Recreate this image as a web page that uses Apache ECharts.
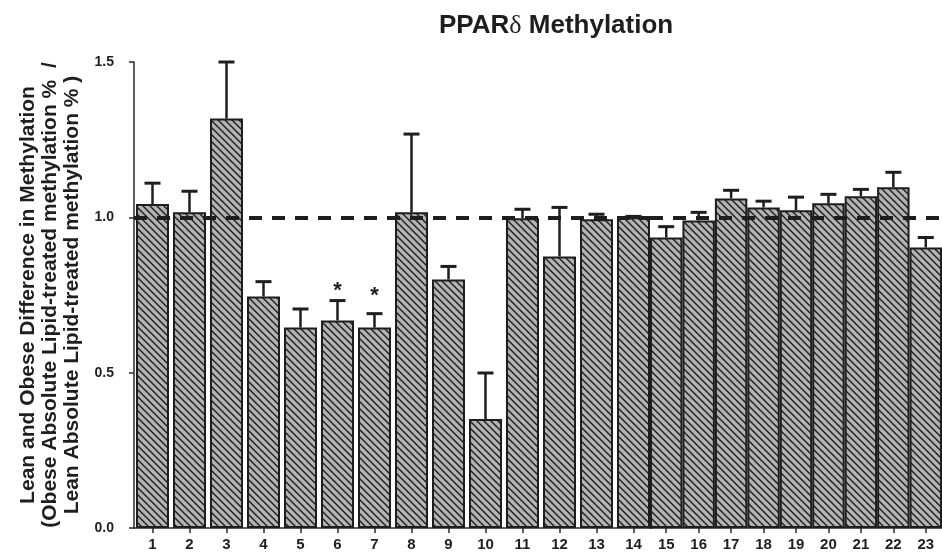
<!DOCTYPE html>
<html><head><meta charset="utf-8">
<script src="https://cdn.jsdelivr.net/npm/echarts@6/dist/echarts.min.js"></script>
<style>html,body{margin:0;padding:0;background:#fff}#c{width:942px;height:553px}</style>
</head><body><div id="c"></div>
<script>
// ---- data ----
const categories = ['1','2','3','4','5','6','7','8','9','10','11','12','13','14','15','16','17','18','19','20','21','22','23'];
const ratioValues = [1.043,1.016,1.318,0.745,0.645,0.668,0.645,1.016,0.800,0.351,0.997,0.874,0.994,1.000,0.935,0.990,1.061,1.032,1.023,1.045,1.068,1.097,0.903];
const errorValues = [0.067,0.068,0.182,0.048,0.060,0.064,0.045,0.252,0.042,0.148,0.029,0.158,0.016,0.003,0.035,0.026,0.026,0.020,0.042,0.029,0.022,0.048,0.032];
const sigMarks = ['','','','','','*','*','','','','','','','','','','','','','','','',''];
const sigLevels = [null,null,null,null,null,0.773,0.756,null,null,null,null,null,null,null,null,null,null,null,null,null,null,null,null];
const yTicks = [0, 0.5, 1.0, 1.5];
const referenceLine = 1.0;
const splitAt = 14; // first 14 bars separated by gaps, remaining bars touch

// ---- styles ----
const FONT = '"Liberation Sans", Arial, sans-serif';
const INK = '#1e1e1e';
function hatch(){
  const s = 7;
  const c = document.createElement('canvas'); c.width = s; c.height = s;
  const g = c.getContext('2d');
  g.fillStyle = '#b3b3b5'; g.fillRect(0,0,s,s);
  g.strokeStyle = '#1e1e1e'; g.lineWidth = 1.4;
  g.beginPath();
  g.moveTo(-1,-1); g.lineTo(s+1,s+1);
  g.moveTo(-1,s-1); g.lineTo(1,s+1);
  g.moveTo(s-1,-1); g.lineTo(s+1,1);
  g.stroke();
  return c;
}
const pattern = {image: hatch(), repeat: 'repeat'};

function part(arr, k){ return k === 0 ? arr.slice(0, splitAt) : arr.slice(splitAt); }

function errRender(offset){
  return function(params, api){
    const i = api.value(0), v = api.value(1), e = api.value(2);
    const p0 = api.coord([i, v]);
    const p1 = api.coord([i, v + e]);
    const children = [
      {type:'line', shape:{x1:p0[0], y1:p0[1], x2:p1[0], y2:p1[1]}, style:{stroke:INK, lineWidth:2.5}},
      {type:'line', shape:{x1:p1[0]-8, y1:p1[1], x2:p1[0]+8, y2:p1[1]}, style:{stroke:INK, lineWidth:3}}
    ];
    const k = offset + params.dataIndex;
    const m = sigMarks[k];
    if (m) {
      const ps = api.coord([i, sigLevels[k]]);
      children.push({type:'text', x:ps[0], y:ps[1]+3, style:{text:m, fill:INK, font:'bold 22px ' + FONT, align:'center', verticalAlign:'middle'}});
    }
    return {type:'group', children};
  };
}

const axisLineStyle = {color:'#2a2a2a', width:1.5};
const xAxisCommon = {
  type:'category', boundaryGap:true,
  axisLine:{show:true, lineStyle:axisLineStyle},
  axisTick:{show:true, alignWithLabel:true, length:5, lineStyle:axisLineStyle},
  axisLabel:{color:INK, fontFamily:FONT, fontWeight:'bold', fontSize:15, margin:9, interval:0},
  splitLine:{show:false}
};

const chart = echarts.init(document.getElementById('c'), null, {renderer:'canvas'});
chart.setOption({
  animation:false,
  backgroundColor:'#fff',
  title:{
    text:'PPAR{d|δ} Methylation', left:434, top:8,
    textStyle:{fontFamily:FONT, fontWeight:'bold', fontSize:26, color:INK,
      rich:{d:{fontFamily:'"Liberation Serif", "DejaVu Serif", serif', fontWeight:'normal', fontSize:26, color:INK}}}
  },
  grid:[
    {left:134, top:62, width:518, height:466},
    {left:650, top:62, width:299, height:466}
  ],
  xAxis:[
    Object.assign({gridIndex:0, data:part(categories,0)}, xAxisCommon),
    Object.assign({gridIndex:1, data:part(categories,1)}, xAxisCommon)
  ],
  yAxis:[
    {gridIndex:0, type:'value', min:yTicks[0], max:yTicks[yTicks.length-1], interval:yTicks[1]-yTicks[0],
     axisLine:{show:true, lineStyle:axisLineStyle},
     axisTick:{show:true, length:5, lineStyle:axisLineStyle},
     axisLabel:{color:INK, fontFamily:FONT, fontWeight:'bold', fontSize:14, margin:20, formatter:v=>v.toFixed(1)},
     splitLine:{show:false},
     name:'Lean and Obese Difference in Methylation\n(Obese Absolute Lipid-treated methylation %  /\nLean Absolute Lipid-treated methylation % )',
     nameLocation:'middle', nameRotate:90, nameGap:43,
     nameTextStyle:{color:INK, fontFamily:FONT, fontWeight:'bold', fontSize:21, lineHeight:22, align:'center'}
    },
    {gridIndex:1, type:'value', min:yTicks[0], max:yTicks[yTicks.length-1], interval:yTicks[1]-yTicks[0], show:false}
  ],
  series:[
    {type:'bar', xAxisIndex:0, yAxisIndex:0, data:part(ratioValues,0), barWidth:33,
     itemStyle:{color:pattern, borderColor:INK, borderWidth:2},
     markLine:{silent:true, symbol:'none', label:{show:false}, z:10,
       lineStyle:{color:INK, width:4, type:[13,10]}, data:[{yAxis:referenceLine}]}},
    {type:'bar', xAxisIndex:1, yAxisIndex:1, data:part(ratioValues,1), barWidth:'100%',
     itemStyle:{color:pattern, borderColor:INK, borderWidth:2},
     markLine:{silent:true, symbol:'none', label:{show:false}, z:10,
       lineStyle:{color:INK, width:4, type:[13,10]}, data:[{yAxis:referenceLine}]}},
    {type:'custom', xAxisIndex:0, yAxisIndex:0, z:5, renderItem:errRender(0),
     encode:{x:0, y:1},
     data:part(ratioValues,0).map((v,i)=>[i, v, errorValues[i]])},
    {type:'custom', xAxisIndex:1, yAxisIndex:1, z:5, renderItem:errRender(splitAt),
     encode:{x:0, y:1},
     data:part(ratioValues,1).map((v,i)=>[i, v, errorValues[splitAt+i]])}
  ]
});
</script>
</body></html>
